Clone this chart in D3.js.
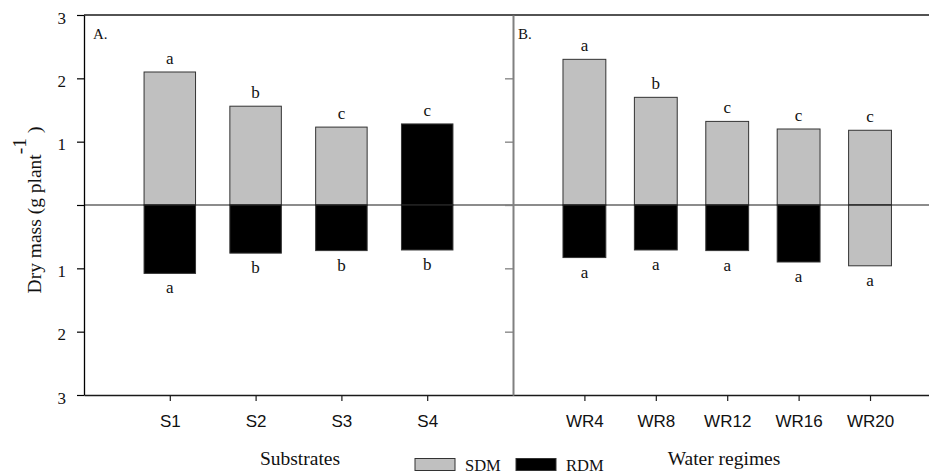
<!DOCTYPE html>
<html>
<head>
<meta charset="utf-8">
<script src="https://cdn.jsdelivr.net/npm/d3@7"></script>
<style>
  body { margin: 0; background: #fff; }
</style>
</head>
<body>
<div id="chart"></div>
<script>
// Panel A: substrates
const substrates = ["S1", "S2", "S3", "S4"];
const sdmSub = [2.10, 1.56, 1.23, 1.28];
const rdmSub = [1.08, 0.76, 0.72, 0.71];
const sdmSubLetters = ["a", "b", "c", "c"];
const rdmSubLetters = ["a", "b", "b", "b"];

// Panel B: water regimes
const regimes = ["WR4", "WR8", "WR12", "WR16", "WR20"];
const sdmWr = [2.30, 1.70, 1.32, 1.20, 1.18];
const rdmWr = [0.83, 0.71, 0.72, 0.90, 0.96];
const sdmWrLetters = ["a", "b", "c", "c", "c"];
const rdmWrLetters = ["a", "a", "a", "a", "a"];

const yTicks = [-3, -2, -1, 0, 1, 2, 3];
const seriesNames = ["SDM", "RDM"];

const W = 929, H = 473;
const GRAY = "#c0c0c0", BLACK = "#000", LINE = "#1a1a1a", DIV = "#808080";
const serif = "'Liberation Serif', 'Times New Roman', serif";
const sans = "'Liberation Sans', Arial, sans-serif";

// the source figure swaps two fills; kept here as styling, not data
const fillOverride = { "S4:SDM": BLACK, "WR20:RDM": GRAY };

const svg = d3.select("#chart").append("svg")
  .attr("width", W).attr("height", H);

const y = d3.scaleLinear().domain([-3, 3]).range([395, 15]);
const xA = d3.scaleLinear().domain([0, 5]).range([84, 513]);
const xB = d3.scaleLinear().domain([0, 5.826]).range([513, 929]);
const barW = 0.6;

function styleAxis(g, color) {
  g.select(".domain").attr("stroke", color).attr("stroke-width", 1.3);
  g.selectAll(".tick line").attr("stroke", color).attr("stroke-width", 1.2);
}

function drawPanel(x, cats, sdm, rdm, sdmLet, rdmLet) {
  const g = svg.append("g");
  const rows = cats.map((c, i) => ({
    c, pos: i + 1, sdm: sdm[i], rdm: rdm[i], ls: sdmLet[i], lr: rdmLet[i]
  }));
  const bw = x(barW) - x(0);

  g.selectAll(".sdm").data(rows).join("rect").attr("class", "sdm")
    .attr("x", d => x(d.pos) - bw / 2).attr("width", bw)
    .attr("y", d => y(d.sdm)).attr("height", d => y(0) - y(d.sdm))
    .attr("fill", d => fillOverride[d.c + ":SDM"] || GRAY)
    .attr("stroke", "#333").attr("stroke-width", 1);

  g.selectAll(".rdm").data(rows).join("rect").attr("class", "rdm")
    .attr("x", d => x(d.pos) - bw / 2).attr("width", bw)
    .attr("y", y(0)).attr("height", d => y(-d.rdm) - y(0))
    .attr("fill", d => fillOverride[d.c + ":RDM"] || BLACK)
    .attr("stroke", "#333").attr("stroke-width", 1);

  g.selectAll(".lt").data(rows).join("text").attr("class", "lt")
    .attr("x", d => x(d.pos)).attr("y", d => y(d.sdm) - 8)
    .attr("text-anchor", "middle")
    .attr("font-family", serif).attr("font-size", 17).attr("fill", "#111")
    .text(d => d.ls);

  g.selectAll(".lb").data(rows).join("text").attr("class", "lb")
    .attr("x", d => x(d.pos)).attr("y", d => y(-d.rdm) + 20)
    .attr("text-anchor", "middle")
    .attr("font-family", serif).attr("font-size", 17).attr("fill", "#111")
    .text(d => d.lr);

  const ax = svg.append("g").attr("transform", `translate(0,${y(-3)})`)
    .call(d3.axisBottom(x).tickValues(rows.map(d => d.pos))
      .tickFormat((d, i) => cats[i]).tickSize(6).tickSizeOuter(0).tickPadding(14));
  styleAxis(ax, LINE);
  ax.selectAll(".tick text").attr("font-family", sans).attr("font-size", 17).attr("fill", "#111");
}

drawPanel(xA, substrates, sdmSub, rdmSub, sdmSubLetters, rdmSubLetters);
drawPanel(xB, regimes, sdmWr, rdmWr, sdmWrLetters, rdmWrLetters);

// zero line across both panels
svg.append("line")
  .attr("x1", xA(0)).attr("x2", W).attr("y1", y(0)).attr("y2", y(0))
  .attr("stroke", LINE).attr("stroke-width", 1.2);

// top border line
svg.append("line")
  .attr("x1", xA(0)).attr("x2", W).attr("y1", y(3)).attr("y2", y(3))
  .attr("stroke", LINE).attr("stroke-width", 1.3);

// left axis
const yAx = svg.append("g").attr("transform", `translate(${xA(0)},0)`)
  .call(d3.axisLeft(y).tickValues(yTicks).tickSize(7).tickSizeOuter(0).tickPadding(11)
    .tickFormat(d => d === 0 ? "" : Math.abs(d)));
styleAxis(yAx, BLACK);
yAx.selectAll(".tick text").attr("font-family", serif).attr("font-size", 17)
  .attr("fill", "#111").attr("dy", "0.48em");

// panel divider with inward ticks
const divAx = svg.append("g").attr("transform", `translate(${xB(0)},0)`)
  .call(d3.axisLeft(y).tickValues(yTicks.filter(t => Math.abs(t) < 3))
    .tickSize(8).tickSizeOuter(0).tickFormat(""));
divAx.select(".domain").attr("stroke", DIV).attr("stroke-width", 2);
divAx.selectAll(".tick line").attr("stroke", DIV).attr("stroke-width", 1.3);

// panel tags
svg.append("text").attr("x", xA(0) + 9).attr("y", 38.5)
  .attr("font-family", serif).attr("font-size", 15).attr("fill", "#111").text("A.");
svg.append("text").attr("x", xB(0) + 5).attr("y", 38.5)
  .attr("font-family", serif).attr("font-size", 15).attr("fill", "#111").text("B.");

// axis titles
svg.append("text").attr("x", 300).attr("y", 465).attr("text-anchor", "middle")
  .attr("font-family", serif).attr("font-size", 19.5).attr("fill", "#111").text("Substrates");
svg.append("text").attr("x", 724).attr("y", 465).attr("text-anchor", "middle")
  .attr("font-family", serif).attr("font-size", 19.5).attr("fill", "#111").text("Water regimes");

const yLab = svg.append("text")
  .attr("transform", `translate(41,210) rotate(-90)`)
  .attr("text-anchor", "middle")
  .attr("font-family", serif).attr("font-size", 19.5).attr("fill", "#111");
yLab.append("tspan").text("Dry mass (g plant");
yLab.append("tspan").attr("dy", -15.5).text("-1");
yLab.append("tspan").attr("dy", 15.5).text(" )");

// legend
const legFills = [GRAY, BLACK];
const legX = [415, 516];
const leg = svg.append("g");
seriesNames.forEach((name, i) => {
  leg.append("rect").attr("x", legX[i]).attr("y", 458.5).attr("width", 40).attr("height", 12)
    .attr("fill", legFills[i]).attr("stroke", "#333").attr("stroke-width", 1);
  leg.append("text").attr("x", legX[i] + 50).attr("y", 470.5)
    .attr("font-family", serif).attr("font-size", 16.5).attr("fill", "#111").text(name);
});
</script>
</body>
</html>
